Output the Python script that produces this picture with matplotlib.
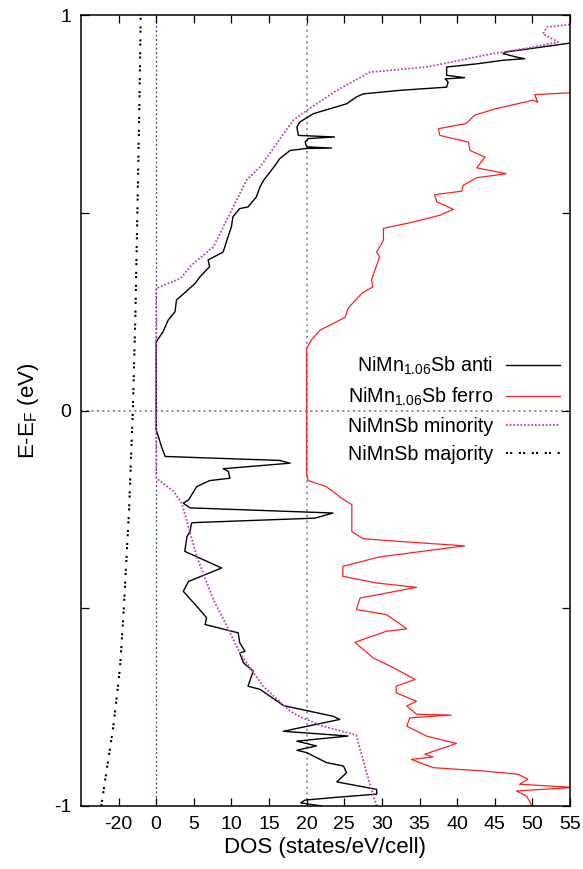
import matplotlib
matplotlib.use("Agg")
import matplotlib.pyplot as plt

plt.rcParams['font.family'] = ['Liberation Sans', 'DejaVu Sans']
plt.rcParams['mathtext.default'] = 'regular'

# NiMn1.06Sb antiferro (energy, DOS)
anti_e = [-1.0, -0.992, -0.985, -0.978, -0.970, -0.958, -0.939, -0.916, -0.899, -0.890,
          -0.865, -0.859, -0.848, -0.836, -0.823, -0.811, -0.781, -0.773, -0.746, -0.739,
          -0.705, -0.697, -0.659, -0.638, -0.613, -0.609, -0.587, -0.562, -0.541, -0.524,
          -0.495, -0.457, -0.432, -0.398, -0.356, -0.318, -0.306, -0.284, -0.283, -0.272,
          -0.259, -0.246, -0.234, -0.226, -0.192, -0.177, -0.171, -0.154, -0.147, -0.133,
          -0.126, -0.116, -0.091, -0.066, -0.049, 0.174, 0.199, 0.229, 0.250, 0.280,
          0.288, 0.322, 0.338, 0.364, 0.381, 0.401, 0.431, 0.465, 0.490, 0.511,
          0.515, 0.540, 0.566, 0.583, 0.625, 0.637, 0.658, 0.663, 0.664, 0.667,
          0.679, 0.688, 0.692, 0.696, 0.717, 0.730, 0.751, 0.776, 0.793, 0.801,
          0.810, 0.818, 0.831, 0.839, 0.842, 0.848, 0.869, 0.877, 0.886, 0.890,
          0.894, 0.903, 0.907, 0.930]
anti_dos = [22.0, 19.2, 19.8, 24.0, 29.3, 29.3, 24.0, 25.3, 24.9, 22.6,
            20.0, 18.7, 21.3, 18.7, 25.5, 16.9, 24.4, 23.5, 16.9, 16.4,
            13.8, 12.2, 12.9, 11.6, 11.1, 11.8, 11.1, 10.9, 6.5, 6.7,
            5.4, 3.6, 4.3, 8.7, 3.8, 4.1, 4.5, 4.7, 5.4, 21.1,
            23.5, 4.5, 3.6, 4.3, 5.4, 7.1, 9.8, 9.6, 8.9, 17.8,
            16.4, 1.2, 0.7, 0.3, 0.0, 0.0, 0.9, 1.6, 2.5, 2.7,
            3.2, 5.2, 5.8, 7.1, 6.9, 8.9, 9.4, 10.0, 10.2, 11.1,
            12.2, 13.3, 13.8, 14.3, 16.0, 16.4, 17.8, 20.0, 23.3, 20.0,
            19.8, 20.2, 23.7, 18.9, 18.7, 19.1, 20.9, 25.3, 26.6, 27.5,
            32.4, 38.6, 38.8, 38.4, 41.0, 38.6, 38.6, 42.6, 46.1, 49.0,
            47.9, 46.1, 46.5, 55.2]

# NiMn1.06Sb ferro (plotted shifted by 20)
ferro_shift = 20
ferro_e = [-1.0, -0.987, -0.975, -0.962, -0.953, -0.945, -0.932, -0.920, -0.912, -0.903,
           -0.882, -0.876, -0.869, -0.842, -0.823, -0.798, -0.777, -0.770, -0.768, -0.747,
           -0.735, -0.714, -0.697, -0.680, -0.650, -0.625, -0.586, -0.558, -0.552, -0.537,
           -0.516, -0.503, -0.474, -0.447, -0.436, -0.419, -0.394, -0.370, -0.342, -0.331,
           -0.324, -0.306, -0.238, -0.221, -0.192, -0.177, -0.162, 0.158, 0.178, 0.204,
           0.216, 0.236, 0.259, 0.296, 0.313, 0.330, 0.389, 0.401, 0.431, 0.461,
           0.475, 0.494, 0.509, 0.528, 0.546, 0.555, 0.570, 0.589, 0.599, 0.604,
           0.614, 0.641, 0.658, 0.679, 0.696, 0.713, 0.726, 0.747, 0.764, 0.785,
           0.780, 0.799, 0.804]
ferro_dos = [29.9, 29.6, 29.2, 27.9, 35.5, 28.3, 29.4, 28.1, 23.9, 16.8,
             13.9, 16.8, 15.7, 19.9, 15.9, 13.3, 13.7, 19.2, 14.6, 13.3,
             14.6, 11.9, 11.9, 14.4, 11.5, 8.8, 6.4, 10.6, 13.3, 12.2,
             10.6, 6.6, 7.1, 14.6, 9.3, 4.8, 4.8, 9.7, 21.0, 12.4,
             7.5, 6.0, 6.0, 4.6, 2.6, 0.2, 0.0, 0.0, 0.6, 1.8,
             3.1, 5.1, 5.5, 7.3, 8.8, 8.6, 9.7, 9.3, 10.2, 10.2,
             13.7, 17.7, 19.5, 17.3, 17.0, 20.6, 20.8, 22.6, 26.5, 25.2,
             22.6, 23.7, 21.7, 21.5, 17.7, 17.5, 21.2, 22.3, 25.2, 30.1,
             30.7, 30.3, 35.2]

# NiMnSb minority
mino_e = [-1.0, -0.958, -0.857, -0.821, -0.796, -0.774, -0.760, -0.697, -0.613, -0.545,
          -0.478, -0.369, -0.234, -0.204, -0.175, -0.170, 0.309, 0.313, 0.334, 0.368,
          0.414, 0.498, 0.583, 0.616, 0.734, 0.759, 0.810, 0.856, 0.869, 0.903,
          0.919, 0.932, 0.953, 0.970, 0.977]
mino_dos = [29.3, 28.6, 27.1, 26.6, 21.8, 19.1, 17.8, 14.2, 11.1, 9.4,
            7.6, 5.4, 3.4, 2.3, 0.3, 0.0, 0.0, 0.5, 3.2, 4.7,
            7.6, 9.8, 12.0, 13.8, 18.2, 20.0, 24.0, 28.4, 35.9, 44.8,
            50.1, 53.4, 51.4, 51.9, 55.2]

# NiMnSb majority (drawn on the compressed negative side)
majo_e = [-1.0, -0.9, -0.8, -0.65, -0.5, -0.25, 0.0, 0.25, 0.5, 0.75, 1.0]
majo_x = [-7.3, -6.5, -5.7, -4.8, -4.3, -3.6, -3.1, -2.75, -2.5, -2.25, -2.05]

xtick_pos = [-5, 0, 5, 10, 15, 20, 25, 30, 35, 40, 45, 50, 55]
xtick_lab = ['-20', '0', '5', '10', '15', '20', '25', '30', '35', '40', '45', '50', '55']

fig = plt.figure(figsize=(5.83, 8.69), dpi=100)
ax = fig.add_axes([0.1388, 0.0725, 0.839, 0.910])

ax.axvline(0, color='#2a3f9a', lw=0.9, ls=(0, (1.5, 2)), zorder=1)
ax.axvline(20, color='#8090d0', lw=1.3, ls=(0, (1.2, 2)), zorder=1)
ax.axhline(0, color='#6878c8', lw=1.2, ls=(0, (1.2, 2)), zorder=1)

ax.plot(anti_dos, anti_e, color='black', lw=1.0, label='NiMn$_{1.06}$Sb anti')
ax.plot([d + ferro_shift for d in ferro_dos], ferro_e, color='#ff2020', lw=0.9,
        label='NiMn$_{1.06}$Sb ferro')
ax.plot(mino_dos, mino_e, color='#c040c0', lw=1.3, ls=(0, (1, 1)),
        label='NiMnSb minority')
ax.plot(majo_x, majo_e, color='black', lw=1.5, ls=(0, (1, 1, 1, 3.2)),
        label='NiMnSb majority')

ax.set_xlim(-10, 55)
ax.set_ylim(-1, 1)
ax.set_xticks(xtick_pos)
ax.set_xticklabels(xtick_lab)
ax.set_yticks([-1, -0.5, 0, 0.5, 1])
ax.set_yticklabels(['-1', '', '0', '', '1'])
ax.tick_params(direction='in', length=6, width=0.9, top=True, right=True,
               labelsize=14, pad=7)
for s in ax.spines.values():
    s.set_linewidth(1.1)

ax.set_xlabel('DOS (states/eV/cell)', fontsize=16, labelpad=3)
ax.set_ylabel('E-E$_F$ (eV)', fontsize=16, labelpad=9)

ax.legend(loc='upper right', bbox_to_anchor=(0.98, 0.571), frameon=False,
          markerfirst=False, fontsize=14.2, handlelength=2.75, handletextpad=0.65,
          labelspacing=0.45, borderpad=0, borderaxespad=0)

fig.savefig('out.png', dpi=100)
